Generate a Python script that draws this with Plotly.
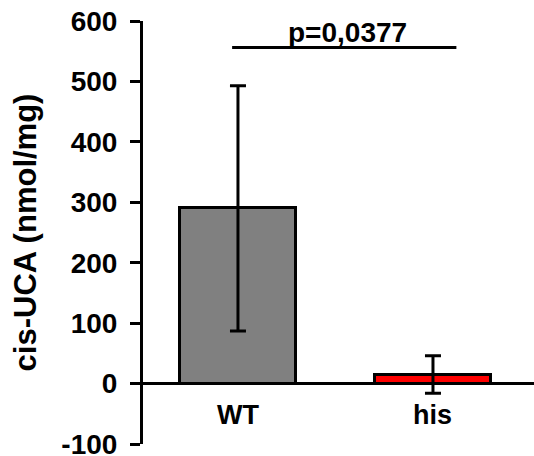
import plotly.graph_objects as go

categories = ["WT", "his"]
means = [290, 15]
errors = [203, 31]
colors = ["#808080", "#ff0000"]
y_ticks = [-100, 0, 100, 200, 300, 400, 500, 600]
p_text = "p=0,0377"
p_level = 556

FONT = "Liberation Sans, Arial, sans-serif"
FS = 28

fig = go.Figure()
fig.add_trace(go.Bar(
    x=[0, 1], y=means, width=0.59,
    marker=dict(color=colors, line=dict(color="black", width=3)),
    error_y=dict(type="data", array=errors, visible=True, color="black",
                 thickness=3, width=8),
    showlegend=False,
))

# significance line
fig.add_trace(go.Scatter(x=[-0.03, 1.12], y=[p_level, p_level], mode="lines",
                         line=dict(color="black", width=3), showlegend=False,
                         hoverinfo="skip"))
fig.add_annotation(x=0.56, y=p_level, text=f"<b>{p_text}</b>", showarrow=False,
                   yanchor="bottom", yshift=-2,
                   font=dict(family=FONT, size=FS, color="black"))

for i, c in enumerate(categories):
    fig.add_annotation(x=i, y=-52, text=f"<b>{c}</b>", showarrow=False,
                       font=dict(family=FONT, size=27, color="black"))

fig.update_layout(
    width=534, height=456,
    margin=dict(l=143, r=0, t=21, b=12),
    plot_bgcolor="white", paper_bgcolor="white",
    font=dict(family=FONT, size=FS, color="black"),
    xaxis=dict(range=[-0.487, 1.518], showline=False, showticklabels=False,
               showgrid=False, zeroline=False, ticks="", automargin=False),
    yaxis=dict(range=[-100, 600], tickvals=y_ticks,
               ticktext=[f"<b>{v}</b>" for v in y_ticks],
               tickfont=dict(family=FONT, size=FS, color="black"),
               ticklabeloverflow="allow", ticklabelstandoff=7,
               automargin=False,
               showline=True, linecolor="black", linewidth=3,
               ticks="outside", ticklen=10, tickwidth=3, tickcolor="black",
               showgrid=False, zeroline=True, zerolinecolor="black",
               zerolinewidth=3,
               title=dict(text="<b>cis-UCA (nmol/mg)</b>", standoff=16,
                          font=dict(family=FONT, size=31))),
    bargap=0,
)

fig.write_html("out.html")
